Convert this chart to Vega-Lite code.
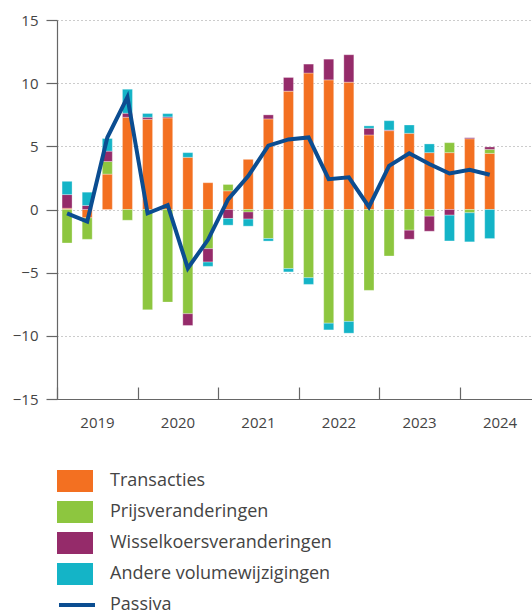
{
  "$schema": "https://vega.github.io/schema/vega-lite/v6.json",
  "width": 475,
  "height": 379,
  "autosize": {"type": "none"},
  "padding": {"left": 57, "top": 20, "right": 0, "bottom": 213},
  "config": {
    "font": "Open Sans",
    "view": {"stroke": null},
    "axis": {"labelFont": "Open Sans", "labelColor": "#444", "domainColor": "#666", "tickColor": "#666", "domainWidth": 1.2, "tickWidth": 1.2},
    "legend": {"labelFont": "Open Sans", "labelColor": "#444", "labelLimit": 0}
  },
  "datasets": {
    "bars": [
      {"t": 2019.125, "serie": "Transacties", "v": 0.1},
      {"t": 2019.125, "serie": "Prijsveranderingen", "v": -2.65},
      {"t": 2019.125, "serie": "Wisselkoersveranderingen", "v": 1.08},
      {"t": 2019.125, "serie": "Andere volumewijzigingen", "v": 1.05},
      {"t": 2019.375, "serie": "Transacties", "v": -0.66},
      {"t": 2019.375, "serie": "Prijsveranderingen", "v": -1.7},
      {"t": 2019.375, "serie": "Wisselkoersveranderingen", "v": 0.32},
      {"t": 2019.375, "serie": "Andere volumewijzigingen", "v": 1.05},
      {"t": 2019.625, "serie": "Transacties", "v": 2.8},
      {"t": 2019.625, "serie": "Prijsveranderingen", "v": 1.0},
      {"t": 2019.625, "serie": "Wisselkoersveranderingen", "v": 0.82},
      {"t": 2019.625, "serie": "Andere volumewijzigingen", "v": 1.0},
      {"t": 2019.875, "serie": "Transacties", "v": 7.3},
      {"t": 2019.875, "serie": "Prijsveranderingen", "v": -0.85},
      {"t": 2019.875, "serie": "Wisselkoersveranderingen", "v": 0.32},
      {"t": 2019.875, "serie": "Andere volumewijzigingen", "v": 1.9},
      {"t": 2020.125, "serie": "Transacties", "v": 7.14},
      {"t": 2020.125, "serie": "Prijsveranderingen", "v": -7.94},
      {"t": 2020.125, "serie": "Wisselkoersveranderingen", "v": 0.16},
      {"t": 2020.125, "serie": "Andere volumewijzigingen", "v": 0.3},
      {"t": 2020.375, "serie": "Transacties", "v": 7.25},
      {"t": 2020.375, "serie": "Prijsveranderingen", "v": -7.33},
      {"t": 2020.375, "serie": "Wisselkoersveranderingen", "v": 0.08},
      {"t": 2020.375, "serie": "Andere volumewijzigingen", "v": 0.26},
      {"t": 2020.625, "serie": "Transacties", "v": 4.13},
      {"t": 2020.625, "serie": "Prijsveranderingen", "v": -8.25},
      {"t": 2020.625, "serie": "Wisselkoersveranderingen", "v": -0.93},
      {"t": 2020.625, "serie": "Andere volumewijzigingen", "v": 0.37},
      {"t": 2020.875, "serie": "Transacties", "v": 2.12},
      {"t": 2020.875, "serie": "Prijsveranderingen", "v": -3.1},
      {"t": 2020.875, "serie": "Wisselkoersveranderingen", "v": -1.06},
      {"t": 2020.875, "serie": "Andere volumewijzigingen", "v": -0.34},
      {"t": 2021.125, "serie": "Transacties", "v": 1.48},
      {"t": 2021.125, "serie": "Prijsveranderingen", "v": 0.5},
      {"t": 2021.125, "serie": "Wisselkoersveranderingen", "v": -0.71},
      {"t": 2021.125, "serie": "Andere volumewijzigingen", "v": -0.53},
      {"t": 2021.375, "serie": "Transacties", "v": 3.97},
      {"t": 2021.375, "serie": "Prijsveranderingen", "v": -0.2},
      {"t": 2021.375, "serie": "Wisselkoersveranderingen", "v": -0.56},
      {"t": 2021.375, "serie": "Andere volumewijzigingen", "v": -0.56},
      {"t": 2021.625, "serie": "Transacties", "v": 7.17},
      {"t": 2021.625, "serie": "Prijsveranderingen", "v": -2.3},
      {"t": 2021.625, "serie": "Wisselkoersveranderingen", "v": 0.32},
      {"t": 2021.625, "serie": "Andere volumewijzigingen", "v": -0.2},
      {"t": 2021.875, "serie": "Transacties", "v": 9.37},
      {"t": 2021.875, "serie": "Prijsveranderingen", "v": -4.68},
      {"t": 2021.875, "serie": "Wisselkoersveranderingen", "v": 1.08},
      {"t": 2021.875, "serie": "Andere volumewijzigingen", "v": -0.26},
      {"t": 2022.125, "serie": "Transacties", "v": 10.8},
      {"t": 2022.125, "serie": "Prijsveranderingen", "v": -5.4},
      {"t": 2022.125, "serie": "Wisselkoersveranderingen", "v": 0.71},
      {"t": 2022.125, "serie": "Andere volumewijzigingen", "v": -0.53},
      {"t": 2022.375, "serie": "Transacties", "v": 10.26},
      {"t": 2022.375, "serie": "Prijsveranderingen", "v": -9.0},
      {"t": 2022.375, "serie": "Wisselkoersveranderingen", "v": 1.64},
      {"t": 2022.375, "serie": "Andere volumewijzigingen", "v": -0.53},
      {"t": 2022.625, "serie": "Transacties", "v": 10.08},
      {"t": 2022.625, "serie": "Prijsveranderingen", "v": -8.86},
      {"t": 2022.625, "serie": "Wisselkoersveranderingen", "v": 2.17},
      {"t": 2022.625, "serie": "Andere volumewijzigingen", "v": -0.93},
      {"t": 2022.875, "serie": "Transacties", "v": 5.9},
      {"t": 2022.875, "serie": "Prijsveranderingen", "v": -6.4},
      {"t": 2022.875, "serie": "Wisselkoersveranderingen", "v": 0.53},
      {"t": 2022.875, "serie": "Andere volumewijzigingen", "v": 0.19},
      {"t": 2023.125, "serie": "Transacties", "v": 6.24},
      {"t": 2023.125, "serie": "Prijsveranderingen", "v": -3.68},
      {"t": 2023.125, "serie": "Wisselkoersveranderingen", "v": 0.05},
      {"t": 2023.125, "serie": "Andere volumewijzigingen", "v": 0.74},
      {"t": 2023.375, "serie": "Transacties", "v": 6.03},
      {"t": 2023.375, "serie": "Prijsveranderingen", "v": -1.64},
      {"t": 2023.375, "serie": "Wisselkoersveranderingen", "v": -0.71},
      {"t": 2023.375, "serie": "Andere volumewijzigingen", "v": 0.66},
      {"t": 2023.625, "serie": "Transacties", "v": 4.5},
      {"t": 2023.625, "serie": "Prijsveranderingen", "v": -0.53},
      {"t": 2023.625, "serie": "Wisselkoersveranderingen", "v": -1.19},
      {"t": 2023.625, "serie": "Andere volumewijzigingen", "v": 0.69},
      {"t": 2023.875, "serie": "Transacties", "v": 4.5},
      {"t": 2023.875, "serie": "Prijsveranderingen", "v": 0.79},
      {"t": 2023.875, "serie": "Wisselkoersveranderingen", "v": -0.45},
      {"t": 2023.875, "serie": "Andere volumewijzigingen", "v": -2.04},
      {"t": 2024.125, "serie": "Transacties", "v": 5.6},
      {"t": 2024.125, "serie": "Prijsveranderingen", "v": -0.26},
      {"t": 2024.125, "serie": "Wisselkoersveranderingen", "v": 0.08},
      {"t": 2024.125, "serie": "Andere volumewijzigingen", "v": -2.3},
      {"t": 2024.375, "serie": "Transacties", "v": 4.44},
      {"t": 2024.375, "serie": "Prijsveranderingen", "v": 0.32},
      {"t": 2024.375, "serie": "Wisselkoersveranderingen", "v": 0.19},
      {"t": 2024.375, "serie": "Andere volumewijzigingen", "v": -2.3}
    ],
    "passiva": [
      {"t": 2019.125, "v": -0.3},
      {"t": 2019.375, "v": -0.95},
      {"t": 2019.625, "v": 5.7},
      {"t": 2019.875, "v": 8.9},
      {"t": 2020.125, "v": -0.3},
      {"t": 2020.375, "v": 0.34},
      {"t": 2020.625, "v": -4.65},
      {"t": 2020.875, "v": -2.4},
      {"t": 2021.125, "v": 0.8},
      {"t": 2021.375, "v": 2.65},
      {"t": 2021.625, "v": 5.05},
      {"t": 2021.875, "v": 5.55},
      {"t": 2022.125, "v": 5.7},
      {"t": 2022.375, "v": 2.4},
      {"t": 2022.625, "v": 2.55},
      {"t": 2022.875, "v": 0.2},
      {"t": 2023.125, "v": 3.45},
      {"t": 2023.375, "v": 4.45},
      {"t": 2023.625, "v": 3.6},
      {"t": 2023.875, "v": 2.85},
      {"t": 2024.125, "v": 3.15},
      {"t": 2024.375, "v": 2.75}
    ]
  },
  "layer": [
    {
      "data": {"name": "bars"},
      "transform": [
        {"calculate": "indexof(['Transacties', 'Prijsveranderingen', 'Wisselkoersveranderingen', 'Andere volumewijzigingen'], datum.serie)", "as": "volgorde"}
      ],
      "mark": {"type": "bar", "size": 10, "stroke": "#ffffff", "strokeWidth": 0.6, "strokeOpacity": 0.5},
      "encoding": {
        "x": {
          "field": "t", "type": "quantitative",
          "scale": {"domain": [2019, 2024.9], "nice": false, "zero": false, "padding": 0},
          "axis": {"title": null, "values": [2019, 2020, 2021, 2022, 2023, 2024], "format": "d", "labelOffset": 40, "labelFlush": false, "tickSize": -12, "labelPadding": 28, "labelFontSize": 15, "grid": false, "labelOverlap": false}
        },
        "y": {
          "field": "v", "type": "quantitative", "stack": "zero",
          "scale": {"domain": [-15, 15], "nice": false},
          "axis": {"title": null, "values": [-15, -10, -5, 0, 5, 10, 15], "format": "d", "tickSize": 11, "labelPadding": 8, "labelFontSize": 15, "grid": true, "gridDash": [1, 3], "gridColor": "#999", "gridWidth": 1}
        },
        "color": {
          "field": "serie", "type": "nominal",
          "scale": {"domain": ["Transacties", "Prijsveranderingen", "Wisselkoersveranderingen", "Andere volumewijzigingen"], "range": ["#F37021", "#8DC63F", "#952B6A", "#14B4C7"]},
          "legend": {"orient": "none", "legendX": 0, "legendY": 450, "direction": "vertical", "title": null, "padding": 0, "symbolType": "M-1,-0.611L1,-0.611L1,0.611L-1,0.611Z", "symbolSize": 1296, "symbolStrokeWidth": 0, "symbolOpacity": 1, "labelFontSize": 18, "labelOffset": 17, "rowPadding": 9, "clipHeight": 22, "labelLimit": 0}
        },
        "order": {"field": "volgorde", "type": "quantitative", "sort": "ascending"}
      }
    },
    {
      "mark": {"type": "rule", "color": "#666", "strokeWidth": 1.5},
      "encoding": {"y": {"datum": 0}}
    },
    {
      "data": {"name": "passiva"},
      "mark": {"type": "line", "strokeWidth": 4, "strokeJoin": "miter"},
      "encoding": {
        "x": {"field": "t", "type": "quantitative"},
        "y": {"field": "v", "type": "quantitative"},
        "stroke": {"datum": "Passiva", "type": "nominal", "scale": {"range": ["#0B4D91"]}, "legend": {"orient": "none", "legendX": 0, "legendY": 574, "title": null, "padding": 0, "symbolType": "stroke", "symbolSize": 1296, "symbolStrokeWidth": 4, "labelFontSize": 18, "labelOffset": 13, "clipHeight": 22, "labelLimit": 0}}
      }
    }
  ]
}
